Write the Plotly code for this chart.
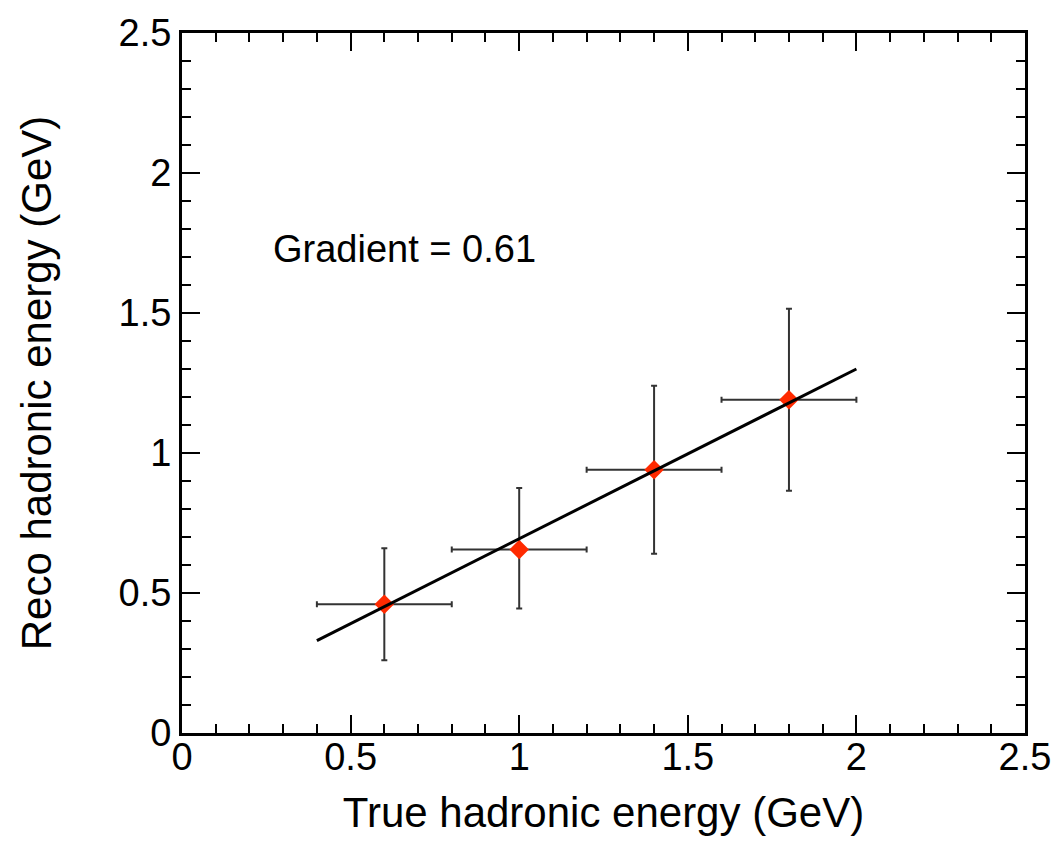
import plotly.graph_objects as go

true_e = [0.6, 1.0, 1.4, 1.8]
true_err = [0.2, 0.2, 0.2, 0.2]
reco_e = [0.46, 0.655, 0.94, 1.19]
reco_err_up = [0.20, 0.22, 0.30, 0.325]
reco_err_dn = [0.20, 0.21, 0.30, 0.325]
fit_x = [0.4, 2.0]
fit_y = [0.33, 1.30]
gradient_label = "Gradient = 0.61"

FONT = "Liberation Sans, Arial, Helvetica, sans-serif"

fig = go.Figure()
fig.add_trace(go.Scatter(
    x=true_e, y=reco_e, mode="markers",
    marker=dict(symbol="diamond", size=15, color="#ff2a00"),
    error_x=dict(type="data", array=true_err, color="#333333", thickness=2, width=3),
    error_y=dict(type="data", array=reco_err_up, arrayminus=reco_err_dn,
                 color="#333333", thickness=2, width=3),
    showlegend=False,
))
fig.add_trace(go.Scatter(
    x=fit_x, y=fit_y, mode="lines",
    line=dict(color="black", width=3), showlegend=False,
))

fig.add_annotation(x=0.264, y=1.728, xref="x", yref="y", text=gradient_label,
                   showarrow=False, xanchor="left", yanchor="middle",
                   font=dict(family=FONT, size=38, color="black"))

axis_common = dict(
    showgrid=False, zeroline=False, showline=True, linecolor="black", linewidth=3,
    mirror="ticks", ticks="inside", ticklen=18, tickwidth=2, tickcolor="black",
    tickfont=dict(family=FONT, size=38, color="black"),
    minor=dict(ticks="inside", ticklen=9, tickwidth=2, tickcolor="black", dtick=0.1),
    dtick=0.5, tick0=0,
)

fig.update_xaxes(range=[0, 2.5], tickvals=[0, 0.5, 1, 1.5, 2, 2.5],
                 ticktext=["0", "0.5", "1", "1.5", "2", "2.5"],
                 title=dict(text="True hadronic energy (GeV)", standoff=22,
                            font=dict(family=FONT, size=42, color="black")),
                 ticklabelstandoff=-12, **axis_common)
fig.update_yaxes(range=[0, 2.5], tickvals=[0, 0.5, 1, 1.5, 2, 2.5],
                 ticktext=["0", "0.5", "1", "1.5", "2", "2.5"],
                 title=dict(text="Reco hadronic energy (GeV)", standoff=54,
                            font=dict(family=FONT, size=42, color="black")),
                 ticklabelstandoff=0, **axis_common)

fig.update_layout(
    width=1063, height=841,
    margin=dict(l=182, r=30, t=27, b=108),
    plot_bgcolor="white", paper_bgcolor="white",
    font=dict(family=FONT, color="black"),
)

fig.write_html("out.html")
